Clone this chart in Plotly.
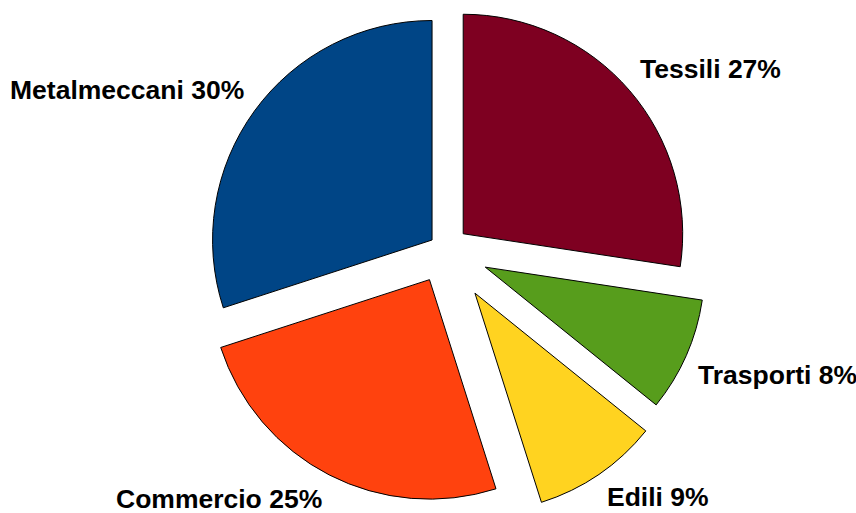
import math
import plotly.graph_objects as go

# ---- data ----
labels = ["Tessili", "Trasporti", "Edili", "Commercio", "Metalmeccani"]
values = [27.4, 8.4, 9.3, 24.9, 30.0]
colors = ["#7e0021", "#579d1c", "#ffd320", "#ff420e", "#004586"]

# ---- layout / styling (pixels) ----
W, H = 856, 513
center_x, center_y = 445.0, 249.4   # pie centre before explosion
radius = 219.5
pull_px = [24, 44, 53, 34, 16]       # explosion distance of each slice
label_gap = 11                       # distance of label corner beyond the arc
label_vpad = 15                      # half text height
font = dict(family="Liberation Sans, Arial, sans-serif", size=26.5,
            color="black", weight="bold")

total = sum(values)
fig = go.Figure()
annotations = []
cum = 0.0
for i, (lab, v) in enumerate(zip(labels, values)):
    mid = (cum + v / 2) / total * 2 * math.pi   # clockwise from 12 o'clock
    cum += v
    dx, dy = math.sin(mid), -math.cos(mid)
    sx = center_x + pull_px[i] * dx
    sy = center_y + pull_px[i] * dy
    x0 = max(0.0, (sx - radius) / W)
    x1 = min(1.0, (sx + radius) / W)
    y0 = max(0.0, 1 - (sy + radius) / H)
    y1 = min(1.0, 1 - (sy - radius) / H)
    fig.add_trace(go.Pie(
        labels=labels,
        values=values,
        sort=False,
        direction="clockwise",
        rotation=0,
        textinfo="none",
        marker=dict(
            colors=[colors[j] if j == i else "rgba(0,0,0,0)" for j in range(len(labels))],
            line=dict(color="black", width=[1 if j == i else 0 for j in range(len(labels))]),
        ),
        domain=dict(x=[x0, x1], y=[y0, y1]),
        showlegend=False,
        hoverinfo="label+percent",
    ))
    # label placed just outside the slice's arc at its mid-angle
    ax = sx + (radius + label_gap) * dx
    ay = sy + (radius + label_gap * 0.9) * dy + (label_vpad if dy > 0 else -label_vpad)
    pct = round(v / total * 100)
    annotations.append(dict(
        text=f"{lab} {pct}%",
        x=ax / W, y=1 - ay / H, xref="paper", yref="paper",
        xanchor="left" if dx > 0 else "right", yanchor="middle",
        showarrow=False, font=font,
    ))

fig.update_layout(
    width=W, height=H,
    margin=dict(l=0, r=0, t=0, b=0),
    paper_bgcolor="white",
    plot_bgcolor="white",
    showlegend=False,
    annotations=annotations,
)

fig.write_html("out.html", config={"displayModeBar": False},
               post_script="document.body.style.margin='0';")
